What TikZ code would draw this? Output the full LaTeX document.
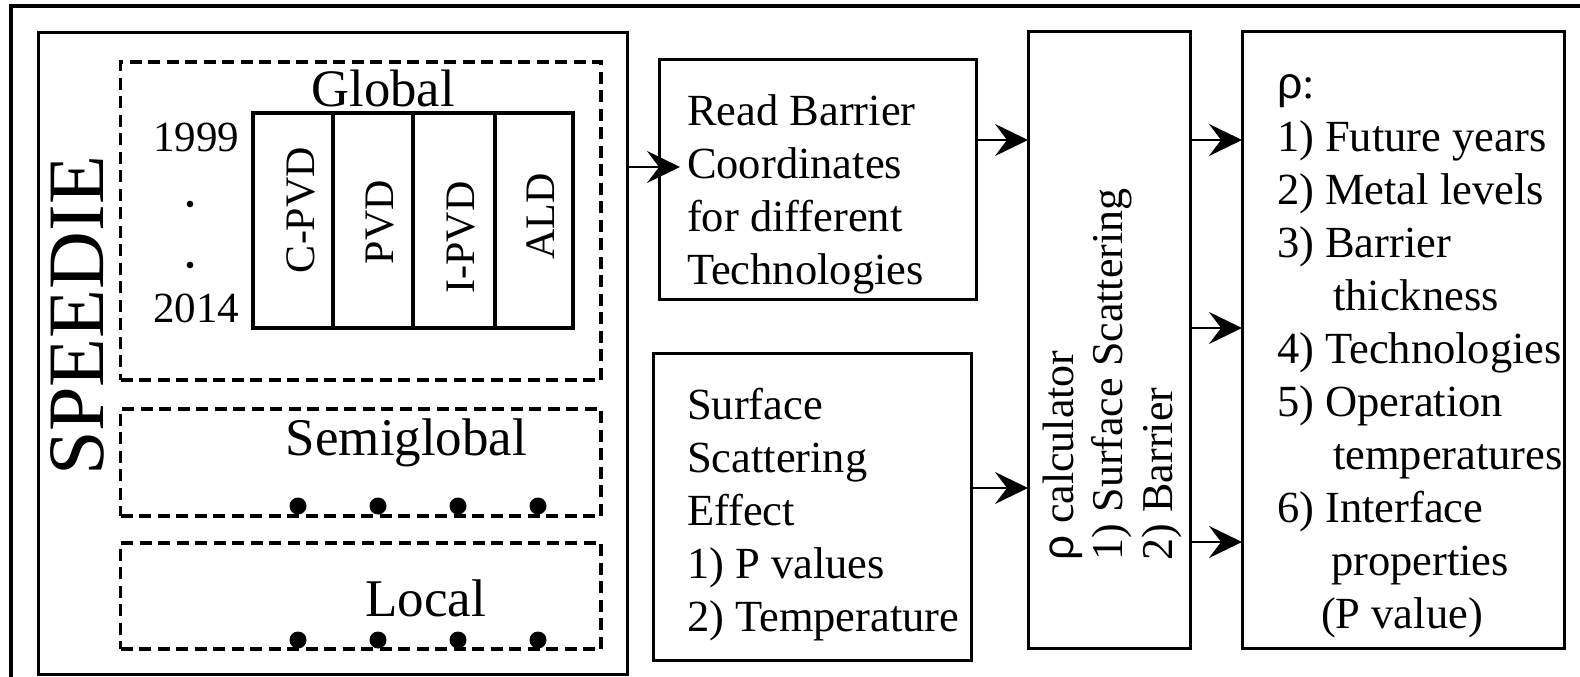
\documentclass[tikz,border=0pt]{standalone}
\usepackage{fontspec}
\usepackage{graphicx}
\setmainfont{Liberation Serif}
\newfontfamily\rhofont{Liberation Sans}
\usetikzlibrary{arrows.meta,fit}
\begin{document}
\begin{tikzpicture}[x=0.3pt, y=-0.3pt,
  box/.style={draw, line width=0.9pt, inner sep=0pt, outer sep=0pt},
  dbox/.style={draw, line width=1.05pt, dash pattern=on 3.6pt off 1.95pt, inner sep=0pt, outer sep=0pt},
  txt/.style={inner sep=0pt, outer sep=0pt, align=left, anchor=north west,
    font=\fontsize{13.35}{15.9}\selectfont},
  plain/.style={inner sep=0pt, outer sep=0pt},
  lbl/.style={plain, rotate=90, font=\fontsize{12.6}{15}\selectfont},
  conn/.style={line width=0.65pt, -{Stealth[length=9.9pt, width=9.6pt, inset=3.6pt]}},
  bigdot/.style={circle, fill, inner sep=0pt, minimum size=5.1pt},
  smalldot/.style={circle, fill, inner sep=0pt, minimum size=2pt}]
\useasboundingbox (0,0) rectangle (1580,677);

% frame round the whole figure
\draw[line width=0.95pt] (11,700) -- (11,6) -- (1600,6);

% SPEEDIE database block
\node[box, fit={(38.5,33) (627,674)}] (speedie) {};
\node[plain, rotate=90, font=\fontsize{24}{28}\selectfont] (speedietitle) at (77.5,316) {SPEEDIE};

% Global / Semiglobal / Local groups
\node[dbox, fit={(120.5,62) (601,380)}] (globalbox) {};
\node[dbox, fit={(120.5,409) (601,516)}] (semibox) {};
\node[dbox, fit={(120.5,543) (601,649)}] (localbox) {};
\node[plain, anchor=base, font=\fontsize{15.8}{19}\selectfont] (global) at (383,107) {Global};
\node[plain, anchor=base, font=\fontsize{15.9}{19}\selectfont] (semi) at (406.5,456) {Semiglobal};
\node[plain, anchor=base, font=\fontsize{15.9}{19}\selectfont] (local) at (425.5,616) {Local};

% year range
\node[plain, anchor=base east, font=\fontsize{12.9}{15}\selectfont] (y1999) at (239,152) {1999};
\node[plain, anchor=base east, font=\fontsize{12.9}{15}\selectfont] (y2014) at (239,323) {2014};
\node[smalldot] (yd1) at (190,204) {};
\node[smalldot] (yd2) at (190,265) {};

% technology table
\node[box, line width=0.95pt, fit={(253,113) (573,328)}] (tab) {};
\draw[line width=0.95pt] (333,113) -- (333,328);
\draw[line width=0.95pt] (413,113) -- (413,328);
\draw[line width=0.95pt] (495,113) -- (495,328);
\node[lbl] (cpvd) at (301,210) {C-PVD};
\node[lbl] (pvd) at (380.5,222) {PVD};
\node[lbl] (ipvd) at (461,237.5) {I-PVD};
\node[lbl] (ald) at (541,216.5) {ALD};

% dots standing for the repeated columns
\foreach \i/\x in {1/298,2/378,3/458,4/538}{
  \node[bigdot] (sd\i) at (\x,506) {};
  \node[bigdot] (ld\i) at (\x,640) {};
}

% input boxes
\node[box, fit={(659,60) (976,300)}] (read) {};
\node[txt] (readtext) at (687,88) {\strut Read Barrier\\Coordinates\\for different\\Technologies};
\node[box, fit={(653,354) (971,660)}] (surf) {};
\node[txt] (surftext) at (687,382) {\strut Surface\\Scattering\\Effect\\1) P values\\2) Temperature};

% calculator
\node[box, fit={(1028,32) (1190,648)}] (calc) {};
\node[txt, rotate=90, font=\fontsize{13.2}{14.85}\selectfont] (calctext) at (1038.4,560)
  {\strut{\rhofont ρ} calculator\\1) Surface Scattering\\2) Barrier};

% results
\node[box, fit={(1242,32) (1564,648)}] (res) {};
\node[txt] (restext) at (1277,61.4) {\strut{\rhofont ρ}:\\1) Future years\\2) Metal levels\\3) Barrier\\\hspace*{16.8pt}thickness\\4) Technologies\\5) Operation\\\hspace*{16.8pt}temperatures\\6) Interface\\\hspace*{16.2pt}properties\\\hspace*{13.2pt}(P value)};

% connectors
\coordinate (tipA) at (680,167);
\coordinate (lvB) at (0,140);
\coordinate (lvC) at (0,488);
\coordinate (lvD) at (0,328);
\coordinate (lvE) at (0,542);
\draw[conn] (speedie.east |- tipA) -- (tipA);
\draw[conn] (read.east |- lvB) -- (calc.west |- lvB);
\draw[conn] (surf.east |- lvC) -- (calc.west |- lvC);
\draw[conn] (calc.east |- lvB) -- (res.west |- lvB);
\draw[conn] (calc.east |- lvD) -- (res.west |- lvD);
\draw[conn] (calc.east |- lvE) -- (res.west |- lvE);
\end{tikzpicture}
\end{document}
